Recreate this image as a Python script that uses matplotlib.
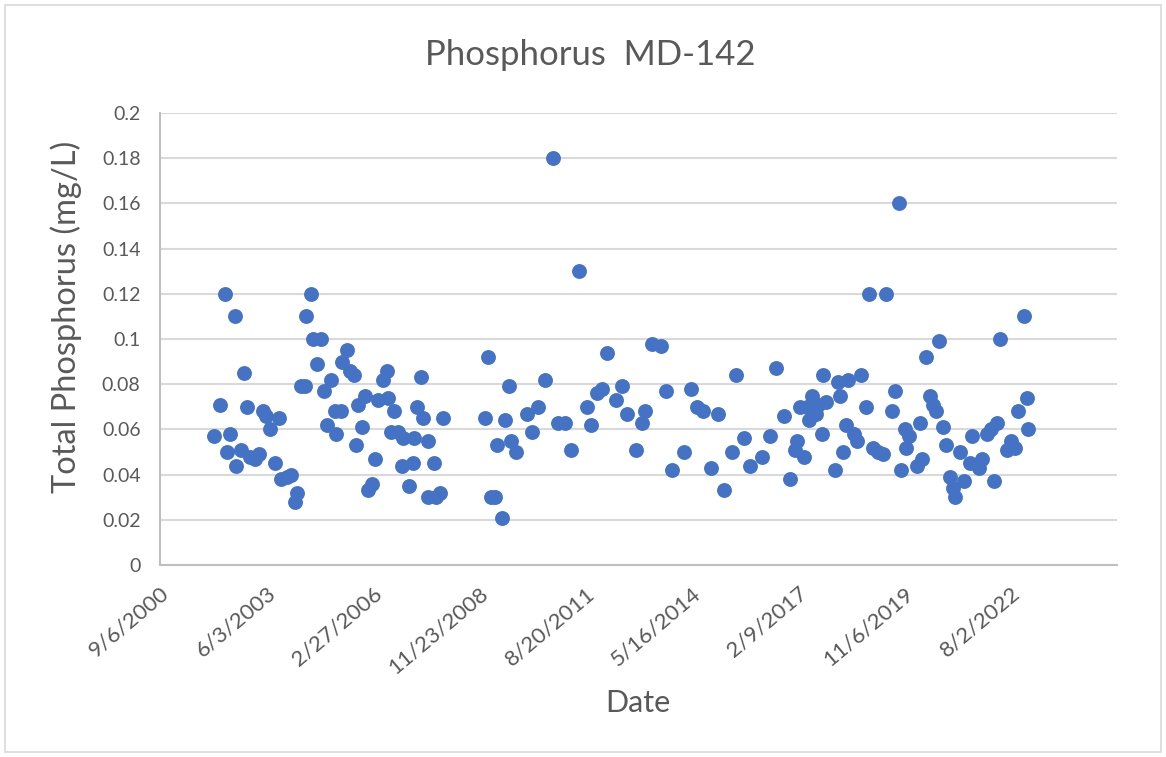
import matplotlib
matplotlib.use("Agg")
import matplotlib.pyplot as plt
from matplotlib.patches import Rectangle
from datetime import datetime, timedelta

# sample dates as decimal years
years = [2002.06, 2002.23, 2002.35, 2002.48, 2002.40, 2002.60, 2002.65, 2002.77, 2002.84, 2002.92,
         2002.99, 2003.13, 2003.23, 2003.34, 2003.42, 2003.51, 2003.65, 2003.74, 2003.80, 2003.94,
         2004.05, 2004.15, 2004.22, 2004.30, 2004.41, 2004.45, 2004.57, 2004.63, 2004.84, 2004.72,
         2004.91, 2004.97, 2005.08, 2005.18, 2005.22, 2005.33, 2005.37, 2005.49, 2005.56, 2005.68,
         2005.72, 2005.79, 2005.87, 2005.95, 2006.04, 2006.14, 2006.21, 2006.29, 2006.41, 2006.52,
         2006.56, 2006.71, 2006.63, 2006.81, 2006.90, 2006.94, 2007.08, 2007.19, 2007.21, 2007.31,
         2007.40, 2007.46, 2007.57, 2007.59, 2007.73, 2007.80, 2007.90, 2007.98,
         2009.05, 2009.13, 2009.20, 2009.30, 2009.36, 2009.49, 2009.57, 2009.66, 2009.72, 2009.85,
         2010.14, 2010.27, 2010.41, 2010.60, 2010.81, 2010.93, 2011.12, 2011.27, 2011.46, 2011.67,
         2011.77, 2011.94, 2012.07, 2012.19, 2012.42, 2012.57, 2012.71, 2012.94, 2013.09, 2013.17,
         2013.36, 2013.59, 2013.72, 2013.86, 2014.16, 2014.35, 2014.51, 2014.66, 2014.87, 2015.04,
         2015.20, 2015.41, 2015.50, 2015.71, 2015.87, 2016.19, 2016.38, 2016.54, 2016.75, 2016.90,
         2017.02, 2017.09, 2017.17, 2017.26, 2017.34, 2017.40, 2017.46, 2017.57, 2017.63, 2017.72,
         2017.76, 2017.84, 2018.05, 2018.14, 2018.20, 2018.26, 2018.34, 2018.39, 2018.55, 2018.62,
         2018.74, 2018.87, 2018.93, 2019.03, 2019.16, 2019.30, 2019.37, 2019.52, 2019.60, 2019.71,
         2019.77, 2019.85, 2019.89, 2019.96, 2020.17, 2020.25, 2020.31, 2020.40, 2020.50, 2020.58,
         2020.65, 2020.75, 2020.84, 2020.92, 2021.03, 2021.09, 2021.15, 2021.28, 2021.38, 2021.54,
         2021.59, 2021.77, 2021.84, 2021.96, 2022.07, 2022.15, 2022.22, 2022.31, 2022.49, 2022.58,
         2022.70, 2022.77, 2022.93, 2023.00, 2023.03]

tp = [0.057, 0.071, 0.12, 0.058, 0.050, 0.11, 0.044, 0.051, 0.085, 0.070,
      0.048, 0.047, 0.049, 0.068, 0.066, 0.060, 0.045, 0.065, 0.038, 0.039,
      0.040, 0.028, 0.032, 0.079, 0.079, 0.11, 0.12, 0.10, 0.10, 0.089,
      0.077, 0.062, 0.082, 0.068, 0.058, 0.068, 0.090, 0.095, 0.086, 0.084,
      0.053, 0.071, 0.061, 0.075, 0.033, 0.036, 0.047, 0.073, 0.082, 0.086,
      0.074, 0.068, 0.059, 0.059, 0.044, 0.056, 0.035, 0.045, 0.056, 0.070,
      0.083, 0.065, 0.055, 0.030, 0.045, 0.030, 0.032, 0.065,
      0.065, 0.092, 0.030, 0.030, 0.053, 0.021, 0.064, 0.079, 0.055, 0.050,
      0.067, 0.059, 0.070, 0.082, 0.18, 0.063, 0.063, 0.051, 0.13, 0.070,
      0.062, 0.076, 0.078, 0.094, 0.073, 0.079, 0.067, 0.051, 0.063, 0.068,
      0.098, 0.097, 0.077, 0.042, 0.050, 0.078, 0.070, 0.068, 0.043, 0.067,
      0.033, 0.050, 0.084, 0.056, 0.044, 0.048, 0.057, 0.087, 0.066, 0.038,
      0.051, 0.055, 0.070, 0.048, 0.070, 0.064, 0.075, 0.067, 0.071, 0.058,
      0.084, 0.072, 0.042, 0.081, 0.075, 0.050, 0.062, 0.082, 0.058, 0.055,
      0.084, 0.070, 0.12, 0.052, 0.050, 0.049, 0.12, 0.068, 0.077, 0.16,
      0.042, 0.060, 0.052, 0.057, 0.044, 0.063, 0.047, 0.092, 0.075, 0.071,
      0.068, 0.099, 0.061, 0.053, 0.039, 0.034, 0.030, 0.050, 0.037, 0.045,
      0.057, 0.043, 0.047, 0.058, 0.060, 0.037, 0.063, 0.100, 0.051, 0.055,
      0.052, 0.068, 0.110, 0.074, 0.060]

ytick_vals = [0, 0.02, 0.04, 0.06, 0.08, 0.1, 0.12, 0.14, 0.16, 0.18, 0.2]
ytick_labels = ["0", "0.02", "0.04", "0.06", "0.08", "0.1", "0.12", "0.14", "0.16", "0.18", "0.2"]


def to_date(y):
    yr = int(y)
    return datetime(yr, 1, 1) + timedelta(days=(y - yr) * 365.25)


dates = [to_date(y) for y in years]
start = datetime(2000, 9, 6)
xticks = [start + timedelta(days=1000 * k) for k in range(9)]

plt.rcParams['font.family'] = ['Lato', 'DejaVu Sans']
grey = "#595959"

fig = plt.figure(figsize=(11.66, 7.57), dpi=100)
fig.patches.append(Rectangle((0.004, 0.006), 0.992, 0.988, transform=fig.transFigure,
                             fill=False, edgecolor="#d9d9d9", linewidth=1.2))
ax = fig.add_axes([0.1372, 0.2536, 0.8208, 0.5971])

ax.scatter(dates, tp, s=115, color="#4472C4", zorder=3, linewidths=0)

ax.set_xlim(start, start + timedelta(days=9000))
ax.set_ylim(0, 0.2)
ax.set_yticks(ytick_vals)
ax.set_yticklabels(ytick_labels)
ax.set_xticks(xticks)
ax.set_xticklabels([f"{d.month}/{d.day}/{d.year}" for d in xticks],
                   rotation=40, ha="right", va="top", rotation_mode="anchor")
ax.tick_params(axis="y", length=0, labelsize=14, labelcolor=grey, pad=14)
ax.tick_params(axis="x", length=0, labelsize=16, labelcolor=grey, pad=13)

ax.grid(axis="y", color="#d9d9d9", linewidth=1.5)
ax.set_axisbelow(True)
for side in ["top", "right"]:
    ax.spines[side].set_visible(False)
for side in ["left", "bottom"]:
    ax.spines[side].set_color("#bfbfbf")
    ax.spines[side].set_linewidth(1.5)

fig.text(0.506, 0.928, "Phosphorus  MD-142", fontsize=25, color=grey, ha="center", va="center")
fig.text(0.057, 0.581, "Total Phosphorus (mg/L)", fontsize=23.5, color=grey,
         rotation=90, ha="center", va="center")
fig.text(0.547, 0.071, "Date", fontsize=22, color=grey, ha="center", va="center")

fig.savefig("out.png", dpi=100)
